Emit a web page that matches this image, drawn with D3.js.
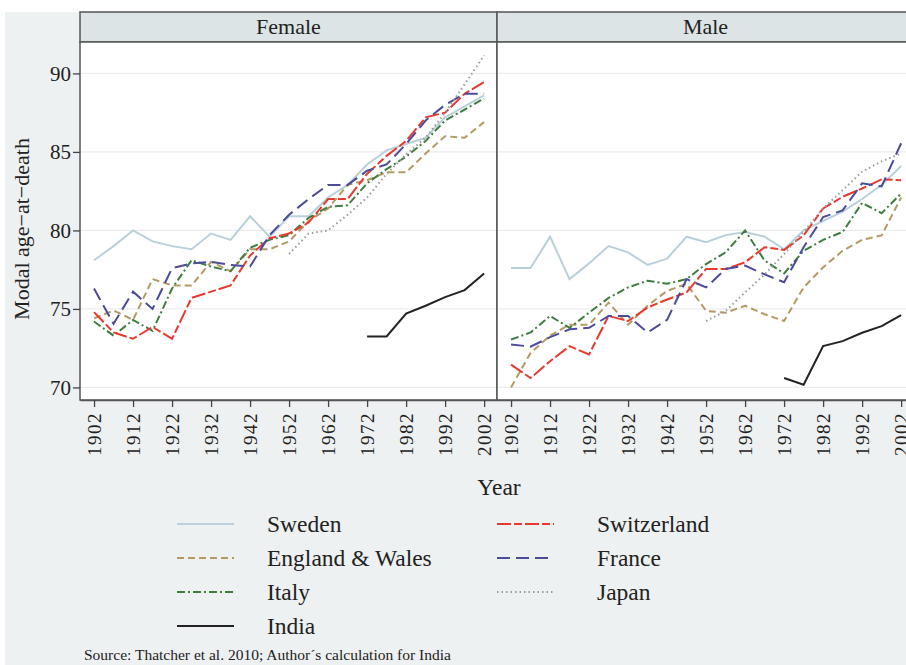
<!DOCTYPE html>
<html>
<head>
<meta charset="utf-8">
<script src="https://cdn.jsdelivr.net/npm/d3@7"></script>
<style>
  body { margin: 0; background: #fff; }
  text { font-family: "Liberation Serif", "DejaVu Serif", serif; fill: #222; }
</style>
</head>
<body>
<div id="chart"></div>
<script>
// 5-year steps, 1902 - 2002
const years = [1902, 1907, 1912, 1917, 1922, 1927, 1932, 1937, 1942, 1947, 1952,
               1957, 1962, 1967, 1972, 1977, 1982, 1987, 1992, 1997, 2002];
const xTicks = [1902, 1912, 1922, 1932, 1942, 1952, 1962, 1972, 1982, 1992, 2002];
const yTicks = [70, 75, 80, 85, 90];
const panels = ["Female", "Male"];

// Female
const swedenF = [78.1, 79.0, 80.0, 79.3, 79.0, 78.8, 79.8, 79.4, 80.9, 79.6, 80.9,
                 80.9, 82.1, 82.9, 84.2, 85.1, 85.5, 85.9, 87.2, 87.9, 88.6];
const englandF = [74.4, 74.9, 74.3, 76.9, 76.5, 76.5, 78.0, 77.4, 78.8, 78.8, 79.3,
                  80.6, 81.4, 82.9, 83.2, 83.7, 83.7, 84.9, 86.0, 85.9, 86.9];
const italyF = [74.2, 73.3, 74.3, 73.6, 76.3, 78.1, 77.7, 77.4, 78.9, 79.4, 79.7,
                80.8, 81.5, 81.6, 83.0, 83.9, 84.7, 85.7, 87.0, 87.7, 88.4];
const indiaF = [null, null, null, null, null, null, null, null, null, null, null,
                null, null, null, 73.25, 73.25, 74.7, 75.2, 75.75, 76.2, 77.25];
const switzF = [74.8, 73.5, 73.1, 73.85, 73.1, 75.7, 76.1, 76.5, 78.4, 79.5, 79.8,
                80.5, 82.0, 82.0, 83.6, 84.75, 85.7, 87.2, 87.5, 88.7, 89.45];
const franceF = [76.3, 74.05, 76.1, 75.0, 77.6, 77.9, 78.0, 77.8, 77.7, 79.7, 81.0,
                 82.0, 82.9, 82.9, 83.8, 84.2, 85.5, 87.0, 88.0, 88.7, 88.7];
const japanF = [null, null, null, null, null, null, null, null, null, null, 78.5,
                79.8, 80.0, 81.0, 82.1, 83.6, 84.85, 85.9, 87.5, 89.3, 91.15];

// Male
const swedenM = [77.6, 77.6, 79.6, 76.9, 77.9, 79.0, 78.6, 77.8, 78.2, 79.6, 79.25,
                 79.7, 79.9, 79.6, 78.8, 80.0, 80.6, 81.2, 82.0, 82.9, 84.1];
const englandM = [70.0, 72.2, 73.3, 74.0, 74.0, 75.4, 74.0, 75.2, 76.15, 76.6, 74.87,
                  74.76, 75.2, 74.66, 74.23, 76.37, 77.65, 78.7, 79.4, 79.68, 82.1];
const italyM = [73.05, 73.5, 74.55, 73.8, 74.76, 75.7, 76.37, 76.8, 76.6, 76.9, 77.86,
                78.6, 80.0, 78.08, 77.26, 78.7, 79.4, 79.9, 81.75, 81.1, 82.35];
const indiaM = [null, null, null, null, null, null, null, null, null, null, null,
                null, null, null, 70.6, 70.17, 72.63, 72.95, 73.48, 73.9, 74.6];
const switzM = [71.45, 70.6, 71.67, 72.63, 72.1, 74.55, 74.23, 75.09, 75.6, 76.05, 77.54,
                77.54, 77.97, 78.93, 78.76, 79.68, 81.4, 82.14, 82.67, 83.25, 83.2];
const franceM = [72.74, 72.6, 73.2, 73.7, 73.8, 74.55, 74.55, 73.5, 74.3, 76.9, 76.37,
                 77.54, 77.76, 77.2, 76.7, 78.93, 80.85, 81.28, 83.0, 82.8, 85.55];
const japanM = [null, null, null, null, null, null, null, null, null, null, 74.23,
                74.87, 76.05, 77.2, 78.5, 79.9, 81.4, 82.56, 83.74, 84.4, 84.9];

const series = [
  { name: "Sweden", color: "#b9d0da", dash: null, F: swedenF, M: swedenM },
  { name: "England & Wales", color: "#b39a64", dash: "7,4", F: englandF, M: englandM },
  { name: "Italy", color: "#3f7d3f", dash: "8,3,2,3", F: italyF, M: italyM },
  { name: "India", color: "#222222", dash: null, F: indiaF, M: indiaM },
  { name: "Switzerland", color: "#e8392f", dash: "14,3,8,3", F: switzF, M: switzM },
  { name: "France", color: "#4b4b9a", dash: "13,6", F: franceF, M: franceM },
  { name: "Japan", color: "#9a9a9a", dash: "1.5,3", F: japanF, M: japanM }
];

const W = 906, H = 665;
const plotTop = 42, plotBottom = 400, headerTop = 12;
const panelW = 417, panelLeft = 80;

const svg = d3.select("#chart").append("svg")
    .attr("width", W)
    .attr("height", H);

// gray background
svg.append("rect")
    .attr("x", 5).attr("y", headerTop)
    .attr("width", W - 5).attr("height", H - headerTop)
    .attr("fill", "#eef1f1");

const x = d3.scaleLinear().domain([1898.4, 2005.3]).range([0, panelW]);
const y = d3.scaleLinear().domain([69.2, 92]).range([plotBottom, plotTop]);

panels.forEach((p, i) => {
    const g = svg.append("g")
        .attr("transform", "translate(" + (panelLeft + i * panelW) + ",0)");

    // header strip
    g.append("rect")
        .attr("x", 0).attr("y", headerTop)
        .attr("width", panelW).attr("height", plotTop - headerTop)
        .attr("fill", "#dce4e5")
        .attr("stroke", "#555").attr("stroke-width", 1.5);
    g.append("text")
        .attr("x", panelW / 2).attr("y", 34)
        .attr("text-anchor", "middle")
        .style("font-size", "22px")
        .text(p);

    // plot area
    g.append("rect")
        .attr("x", 0).attr("y", plotTop)
        .attr("width", panelW).attr("height", plotBottom - plotTop)
        .attr("fill", "#fff");

    // grid
    g.selectAll(".grid")
        .data(yTicks)
      .enter().append("line")
        .attr("x1", 0).attr("x2", panelW)
        .attr("y1", d => y(d)).attr("y2", d => y(d))
        .attr("stroke", "#ececec").attr("stroke-width", 1.2);

    // lines
    const line = d3.line()
        .defined(d => d.v !== null)
        .x(d => x(d.year))
        .y(d => y(d.v));

    series.forEach(s => {
        const pts = years.map((yr, k) => ({ year: yr, v: s[p[0]][k] }));
        g.append("path")
            .datum(pts)
            .attr("fill", "none")
            .attr("stroke", s.color)
            .attr("stroke-width", 2)
            .attr("stroke-dasharray", s.dash)
            .attr("d", line);
    });

    // frame
    g.append("rect")
        .attr("x", 0).attr("y", plotTop)
        .attr("width", panelW).attr("height", plotBottom - plotTop)
        .attr("fill", "none")
        .attr("stroke", "#555").attr("stroke-width", 1.5);

    // x axis
    const xAxis = g.append("g")
        .attr("transform", "translate(0," + plotBottom + ")")
        .call(d3.axisBottom(x).tickValues(xTicks).tickFormat(d3.format("d")).tickSize(7).tickSizeOuter(0));
    xAxis.select(".domain").attr("stroke", "#555").attr("stroke-width", 1.5);
    xAxis.selectAll(".tick line").attr("stroke", "#444").attr("stroke-width", 1.3);
    xAxis.selectAll("text")
        .attr("transform", "rotate(-90)")
        .attr("x", -12).attr("y", 0).attr("dy", "0.35em")
        .attr("text-anchor", "end")
        .style("font-size", "19px")
        .style("letter-spacing", "1.5px")
        .attr("fill", "#222");
    xAxis.attr("font-family", null).attr("font-size", null);
});

// y axis
const yAxis = svg.append("g")
    .attr("transform", "translate(" + panelLeft + ",0)")
    .call(d3.axisLeft(y).tickValues(yTicks).tickSize(7).tickSizeOuter(0));
yAxis.select(".domain").remove();
yAxis.selectAll(".tick line").attr("stroke", "#444").attr("stroke-width", 1.3);
yAxis.selectAll("text")
    .attr("x", -9)
    .style("font-size", "21px")
    .attr("fill", "#222");
yAxis.attr("font-family", null).attr("font-size", null);

svg.append("text")
    .attr("transform", "rotate(-90)")
    .attr("x", -229)
    .attr("y", 29)
    .attr("text-anchor", "middle")
    .style("font-size", "22px")
    .text("Modal age\u2212at\u2212death");

svg.append("text")
    .attr("x", 499).attr("y", 495)
    .attr("text-anchor", "middle")
    .style("font-size", "23.5px")
    .text("Year");

// legend
const legendCols = [
    { lineX: 177, textX: 267, items: ["Sweden", "England & Wales", "Italy", "India"] },
    { lineX: 497, textX: 597, items: ["Switzerland", "France", "Japan"] }
];
legendCols.forEach(col => {
    col.items.forEach((name, r) => {
        const s = series.find(d => d.name === name);
        const ly = 524 + r * 34;
        svg.append("line")
            .attr("x1", col.lineX).attr("x2", col.lineX + 57)
            .attr("y1", ly).attr("y2", ly)
            .attr("stroke", s.color)
            .attr("stroke-width", 2)
            .attr("stroke-dasharray", s.dash);
        svg.append("text")
            .attr("x", col.textX).attr("y", ly + 8)
            .style("font-size", "23.5px")
            .text(name);
    });
});

svg.append("text")
    .attr("x", 84).attr("y", 660)
    .style("font-size", "15.5px")
    .text("Source: Thatcher et al. 2010; Author\u00b4s calculation for India");
</script>
</body>
</html>
